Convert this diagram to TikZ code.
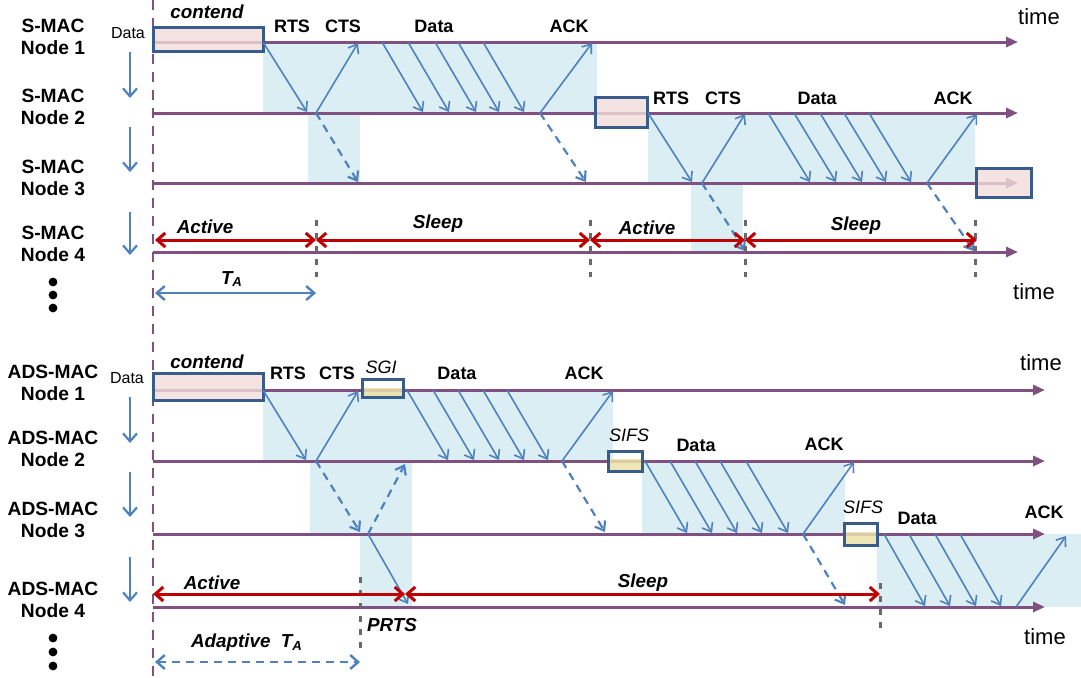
\documentclass[tikz,border=0pt]{standalone}
\usepackage{fontspec}
\setmainfont{Liberation Sans}
\usetikzlibrary{arrows.meta}

\definecolor{axiscol}{RGB}{128,80,128}
\definecolor{msgcol}{RGB}{79,129,189}
\definecolor{busycol}{RGB}{218,238,243}
\definecolor{boxfillcol}{RGB}{242,220,219}
\definecolor{boxlinecol}{RGB}{56,93,138}
\definecolor{wakecol}{RGB}{192,0,0}
\definecolor{guardcol}{RGB}{236,226,170}
\definecolor{boundcol}{RGB}{105,105,105}

\tikzset{
  timeline/.style={axiscol, line width=1.5pt, -{Triangle[length=6pt,width=5pt]}},
  msgarrow/.style={msgcol, line width=0.8pt, -{Straight Barb[length=4pt,width=6pt]}},
  overheard/.style={msgarrow, line width=1.1pt, dash pattern=on 4pt off 3pt},
  duty/.style={wakecol, line width=1.5pt, {Straight Barb[length=4pt,width=7pt]}-{Straight Barb[length=4pt,width=7pt]}},
  period/.style={msgcol, line width=1.2pt, {Straight Barb[length=4pt,width=7pt]}-{Straight Barb[length=4pt,width=7pt]}},
  bound/.style={boundcol, line width=1.5pt, dash pattern=on 3pt off 3.5pt},
  framebox/.style={draw=boxlinecol, line width=1.5pt},
  nodelbl/.style={align=center, inner sep=0pt, font=\fontsize{9.6}{11}\selectfont\bfseries},
  pkt/.style={inner sep=0pt, font=\fontsize{9}{10}\selectfont\bfseries},
  phase/.style={inner sep=0pt, font=\fontsize{9.4}{10}\selectfont\bfseries\itshape},
  gap/.style={inner sep=0pt, font=\fontsize{9}{10}\selectfont\itshape},
  axislbl/.style={inner sep=0pt, font=\fontsize{11}{12}\selectfont},
  smalllbl/.style={inner sep=0pt, font=\fontsize{8}{9}\selectfont},
}

\begin{document}
\begin{tikzpicture}[x=0.5pt, y=-0.5pt]
  \useasboundingbox (0,0) rectangle (1081,677);

  % busy periods
  \fill[busycol] (263,42) rectangle (597,113);
  \fill[busycol] (308,113) rectangle (360,183);
  \fill[busycol] (648,113) rectangle (975,183);
  \fill[busycol] (691,183) rectangle (743,252);
  \fill[busycol] (263,390) rectangle (613,461);
  \fill[busycol] (310,461) rectangle (412,534);
  \fill[busycol] (360,534) rectangle (412,607);
  \fill[busycol] (642,461) rectangle (845,534);
  \fill[busycol] (877,534) rectangle (1081,607);

  % start of the frame
  \draw[axiscol, line width=1pt, dash pattern=on 5pt off 4pt] (153,0) -- (153,677);

  % time axes
  \foreach \y in {42,113,183,252}
    \draw[timeline] (153,\y) -- (1018,\y);
  \foreach \y in {390,461,534,607}
    \draw[timeline] (153,\y) -- (1045,\y);

  % node names
  \foreach \n/\y in {1/37,2/107,3/178,4/244}
    \node[nodelbl] (smac\n) at (53,\y) {S-MAC\\Node \n};
  \foreach \n/\y in {1/383,2/449,3/520,4/600}
    \node[nodelbl] (ads\n) at (53,\y) {ADS-MAC\\Node \n};
  \foreach \a/\b in {52/98,127/172,212/255,397/443,472/517,557/602}
    \draw[msgcol, line width=1.1pt, -{Straight Barb[length=4pt,width=7pt]}] (130,\a) -- (130,\b);
  \foreach \y in {282,295,308,638,652,666}
    \fill (53,\y) circle (2.2pt);

  % ---- S-MAC ----
  \draw[framebox, fill=boxfillcol, fill opacity=0.8] (153,27) rectangle (263,51);
  \draw[framebox, fill=boxfillcol, fill opacity=0.8] (595,97) rectangle (647,127);
  \draw[framebox, fill=boxfillcol, fill opacity=0.8] (976,168) rectangle (1031,197);
  \node[smalllbl] (sdata) at (128,33) {Data};
  \node[phase] (scont) at (207,12) {contend};

  \draw[msgarrow] (263,42) -- (307,112);
  \draw[msgarrow] (316,113) -- (358,43);
  \draw[overheard] (316,113) -- (358,182);
  \foreach \x in {382,408,435,458,483}
    \draw[msgarrow] (\x,42) -- ++(41,70);
  \draw[msgarrow] (540,113) -- (592,43);
  \draw[overheard] (540,113) -- (586,182);

  \draw[msgarrow] (648,113) -- (692,182);
  \draw[msgarrow] (702,183) -- (745,114);
  \draw[overheard] (702,183) -- (745,251);
  \foreach \x in {768,794,820,844,869}
    \draw[msgarrow] (\x,113) -- ++(42,69);
  \draw[msgarrow] (927,183) -- (977,114);
  \draw[overheard] (927,183) -- (974,251);

  \node[pkt] (srts1) at (292,26) {RTS};
  \node[pkt] (scts1) at (343,26) {CTS};
  \node[pkt] (sdat1) at (434,26) {Data};
  \node[pkt] (sack1) at (569,26) {ACK};
  \node[pkt] (srts2) at (671,98) {RTS};
  \node[pkt] (scts2) at (723,98) {CTS};
  \node[pkt] (sdat2) at (817,98) {Data};
  \node[pkt] (sack2) at (953,98) {ACK};

  % duty cycle of node 4
  \foreach \x in {316,590,745,975}
    \draw[bound] (\x,220) -- (\x,277);
  \draw[duty] (155,240) -- (316,240);
  \draw[duty] (316,240) -- (590,240);
  \draw[duty] (590,240) -- (745,240);
  \draw[duty] (745,240) -- (977,240);
  \node[phase] (sact1) at (205,227) {Active};
  \node[phase] (sslp1) at (438,224) {Sleep};
  \node[phase] (sact2) at (647,228) {Active};
  \node[phase] (sslp2) at (856,226) {Sleep};
  \draw[period] (155,293) -- (316,293);
  \node[phase] (sta) at (232,279) {T\textsubscript{A}};

  \node[axislbl] (stime1) at (1039,17) {time};
  \node[axislbl] (stime2) at (1034,292) {time};

  % ---- ADS-MAC ----
  \draw[framebox, fill=boxfillcol, fill opacity=0.8] (153,373) rectangle (263,400);
  \fill[guardcol, opacity=0.85] (362,388) rectangle (403,397);
  \draw[framebox] (362,379) rectangle (403,397);
  \fill[guardcol, opacity=0.85] (608,459) rectangle (642,471);
  \draw[framebox] (608,451) rectangle (642,471);
  \fill[guardcol, opacity=0.85] (844,532) rectangle (877,545);
  \draw[framebox] (844,523) rectangle (877,545);
  \node[smalllbl] (adata) at (127,378) {Data};
  \node[phase] (acont) at (207,362) {contend};

  \draw[msgarrow] (263,390) -- (306,460);
  \draw[msgarrow] (316,461) -- (358,391);
  \draw[overheard] (316,461) -- (360,532);
  \draw[overheard] (368,534) -- (405,464);
  \draw[msgarrow] (368,534) -- (408,604);
  \foreach \x in {407,433,458,483,507}
    \draw[msgarrow] (\x,390) -- ++(41,70);
  \draw[msgarrow] (562,461) -- (613,391);
  \draw[overheard] (562,461) -- (605,532);

  \foreach \x in {645,670,695,720,746}
    \draw[msgarrow] (\x,461) -- ++(42,72);
  \draw[msgarrow] (803,534) -- (854,462);
  \draw[overheard] (803,534) -- (845,605);

  \foreach \x in {884,909,935,960}
    \draw[msgarrow] (\x,534) -- ++(41,72);
  \draw[msgarrow] (1016,607) -- (1066,536);

  \node[pkt] (arts) at (288,373) {RTS};
  \node[pkt] (acts) at (337,373) {CTS};
  \node[gap] (asgi) at (381,367) {SGI};
  \node[pkt] (adat1) at (457,373) {Data};
  \node[pkt] (aack1) at (584,373) {ACK};
  \node[gap] (asifs1) at (629,435) {SIFS};
  \node[pkt] (adat2) at (696,445) {Data};
  \node[pkt] (aack2) at (824,444) {ACK};
  \node[gap] (asifs2) at (863,507) {SIFS};
  \node[pkt] (adat3) at (917,518) {Data};
  \node[pkt] (aack3) at (1044,512) {ACK};

  % duty cycle of node 4
  \draw[bound] (360,577) -- (360,648);
  \draw[bound] (880,583) -- (880,632);
  \draw[duty] (153,594) -- (405,594);
  \draw[duty] (405,594) -- (880,594);
  \node[phase] (aact) at (212,583) {Active};
  \node[phase] (aslp) at (643,583) {Sleep};
  \node[phase] (aprts) at (392,625) {PRTS};
  \draw[period, dash pattern=on 4pt off 3pt] (155,662) -- (360,662);
  \node[phase] (ata) at (247,643) {Adaptive\ \ T\textsubscript{A}};

  \node[axislbl] (atime1) at (1041,363) {time};
  \node[axislbl] (atime2) at (1045,637) {time};
\end{tikzpicture}
\end{document}
